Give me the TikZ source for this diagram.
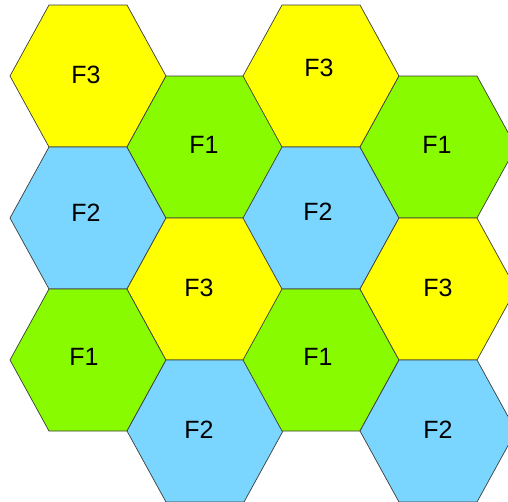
\documentclass[tikz,border=0pt]{standalone}
\usepackage{fontspec}
\setmainfont{Liberation Sans}
\definecolor{hexyellow}{RGB}{255,255,0}
\definecolor{hexgreen}{RGB}{136,251,0}
\definecolor{hexblue}{RGB}{122,214,254}
\definecolor{hexline}{RGB}{60,60,60}
\tikzset{
  hexcell/.style={draw=hexline, line width=0.7pt, line join=miter},
  hexlabel/.style={font=\fontsize{25}{30}\selectfont, text=black, inner sep=0pt}
}
\newcommand{\hexat}[3]{% color, cx, cy
  \filldraw[hexcell, fill=#1] (#2-78,#3) -- (#2-39,#3-71) -- (#2+39,#3-71) -- (#2+78,#3) -- (#2+39,#3+71) -- (#2-39,#3+71) -- cycle;
}
\begin{document}
\begin{tikzpicture}[x=1pt,y=-1pt]
\useasboundingbox (0,0) rectangle (508,501);
\clip (0,0) rectangle (508,501);
% column 1
\hexat{hexyellow}{88}{76}
\hexat{hexblue}{88}{218}
\hexat{hexgreen}{88}{360}
% column 2
\hexat{hexgreen}{205}{147}
\hexat{hexyellow}{205}{289}
\hexat{hexblue}{205}{431}
% column 3
\hexat{hexyellow}{321}{76}
\hexat{hexblue}{321}{218}
\hexat{hexgreen}{321}{360}
% column 4
\hexat{hexgreen}{438}{147}
\hexat{hexyellow}{438}{289}
\hexat{hexblue}{438}{431}
% labels
\node[hexlabel] (a1) at (86,75) {F3};
\node[hexlabel] (a2) at (86,213) {F2};
\node[hexlabel] (a3) at (84,357) {F1};
\node[hexlabel] (b1) at (204,145) {F1};
\node[hexlabel] (b2) at (199,288) {F3};
\node[hexlabel] (b3) at (199,430) {F2};
\node[hexlabel] (c1) at (319,68) {F3};
\node[hexlabel] (c2) at (318,212) {F2};
\node[hexlabel] (c3) at (318,357) {F1};
\node[hexlabel] (d1) at (437,145) {F1};
\node[hexlabel] (d2) at (438,288) {F3};
\node[hexlabel] (d3) at (438,430) {F2};
\end{tikzpicture}
\end{document}
